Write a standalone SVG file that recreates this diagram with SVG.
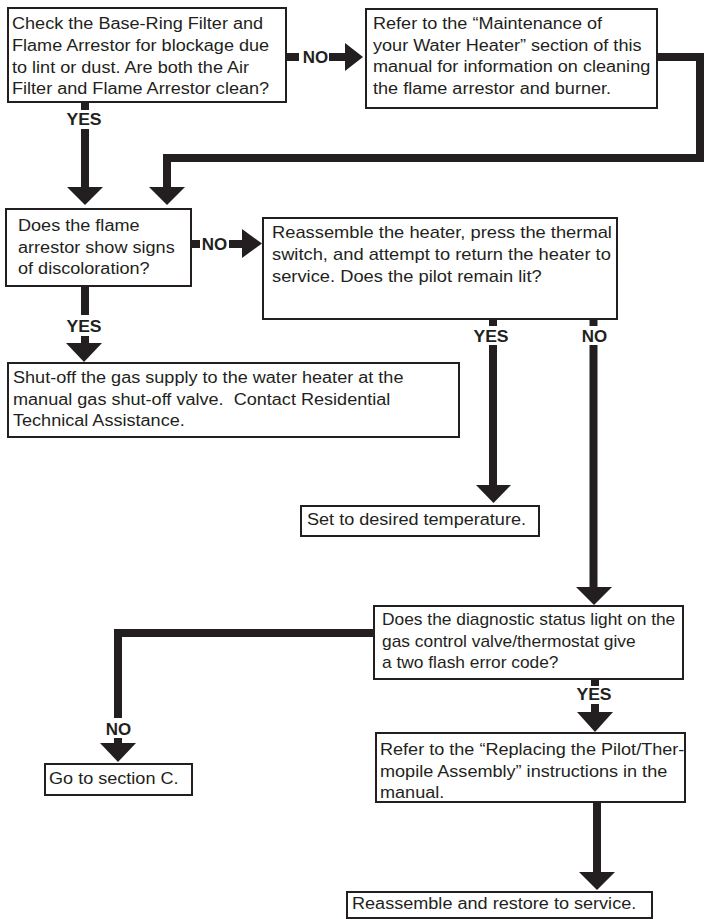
<svg xmlns="http://www.w3.org/2000/svg" width="704" height="919" viewBox="0 0 704 919">
<style>
.box{fill:#fff;stroke:#231f20;stroke-width:2}
.t{font-family:"Liberation Sans",Arial,sans-serif;font-size:16px;fill:#231f20}
.lbl{font-family:"Liberation Sans",Arial,sans-serif;font-size:16px;font-weight:bold;fill:#231f20;text-anchor:middle}
.ln{fill:none;stroke:#231f20;stroke-width:8;stroke-linejoin:miter;stroke-linecap:butt}
.ah{fill:#231f20}
</style>
<rect width="704" height="919" fill="#fff"/>
<g id="connectors">
  <line class="ln" x1="286" y1="57" x2="299" y2="57"/>
  <line class="ln" x1="329" y1="57" x2="346" y2="57"/>
  <polygon class="ah" points="345,43 363,57 345,71"/>
  <text class="lbl" transform="translate(315.5,0) scale(1.06,1)" x="0" y="62.7">NO</text>

  <line class="ln" x1="85" y1="102" x2="85" y2="110"/>
  <text class="lbl" transform="translate(84,0) scale(1.1,1)" x="0" y="125">YES</text>
  <line class="ln" x1="85" y1="129" x2="85" y2="188"/>
  <polygon class="ah" points="67,187 85,205 103,187"/>

  <path class="ln" d="M657,57 H700 V158 H167 V188"/>
  <polygon class="ah" points="149,187 167,205 185,187"/>

  <line class="ln" x1="191" y1="244" x2="200" y2="244"/>
  <text class="lbl" transform="translate(214.5,0) scale(1.06,1)" x="0" y="250">NO</text>
  <line class="ln" x1="229" y1="244" x2="243" y2="244"/>
  <polygon class="ah" points="242,229 262,243.5 242,258"/>

  <line class="ln" x1="85" y1="286" x2="85" y2="315"/>
  <text class="lbl" transform="translate(84,0) scale(1.1,1)" x="0" y="332">YES</text>
  <line class="ln" x1="85" y1="336" x2="85" y2="344"/>
  <polygon class="ah" points="66,343 84,362 102,343"/>

  <line class="ln" x1="493" y1="319" x2="493" y2="326"/>
  <text class="lbl" transform="translate(491,0) scale(1.1,1)" x="0" y="342">YES</text>
  <line class="ln" x1="493" y1="345" x2="493" y2="486"/>
  <polygon class="ah" points="476,485 493.5,503 511,485"/>

  <line class="ln" x1="593.5" y1="319" x2="593.5" y2="326"/>
  <text class="lbl" transform="translate(594.5,0) scale(1.06,1)" x="0" y="342">NO</text>
  <line class="ln" x1="593.5" y1="345" x2="593.5" y2="588"/>
  <polygon class="ah" points="576,587 594,605 612,587"/>

  <path class="ln" d="M374,633 H118 V718"/>
  <text class="lbl" transform="translate(118.5,0) scale(1.06,1)" x="0" y="735">NO</text>
  <line class="ln" x1="118" y1="738" x2="118" y2="744"/>
  <polygon class="ah" points="100,743 118,762 136,743"/>

  <line class="ln" x1="595" y1="679" x2="595" y2="686"/>
  <text class="lbl" transform="translate(594,0) scale(1.1,1)" x="0" y="700">YES</text>
  <line class="ln" x1="595" y1="704" x2="595" y2="713"/>
  <polygon class="ah" points="577,712 595,732 613,712"/>

  <line class="ln" x1="597" y1="802" x2="597" y2="873"/>
  <polygon class="ah" points="579,872 597,890 615,872"/>
</g>
<g id="n1">
  <rect class="box" x="8" y="8" width="278" height="94"/>
  <text class="t" transform="translate(12,0) scale(1.13,1)"><tspan x="0" y="29.3">Check the Base-Ring Filter and</tspan><tspan x="0" y="51">Flame Arrestor for blockage due</tspan><tspan x="0" y="72.7">to lint or dust. Are both the Air</tspan><tspan x="0" y="94.4">Filter and Flame Arrestor clean?</tspan></text>
</g>
<g id="n2">
  <rect class="box" x="366" y="9" width="291" height="99"/>
  <text class="t" transform="translate(373,0) scale(1.13,1)"><tspan x="0" y="29.5">Refer to the “Maintenance of</tspan><tspan x="0" y="51">your Water Heater” section of this</tspan><tspan x="0" y="72.5">manual for information on cleaning</tspan><tspan x="0" y="94">the flame arrestor and burner.</tspan></text>
</g>
<g id="n3">
  <rect class="box" x="6" y="209" width="185" height="77"/>
  <text class="t" transform="translate(18,0) scale(1.13,1)"><tspan x="0" y="231">Does the flame</tspan><tspan x="0" y="253">arrestor show signs</tspan><tspan x="0" y="274">of discoloration?</tspan></text>
</g>
<g id="n4">
  <rect class="box" x="263" y="218" width="354" height="101"/>
  <text class="t" transform="translate(272,0) scale(1.145,1)"><tspan x="0" y="238">Reassemble the heater, press the thermal</tspan><tspan x="0" y="260">switch, and attempt to return the heater to</tspan><tspan x="0" y="282">service. Does the pilot remain lit?</tspan></text>
</g>
<g id="n5">
  <rect class="box" x="8" y="363" width="451" height="74"/>
  <text class="t" transform="translate(13,0) scale(1.13,1)"><tspan x="0" y="383">Shut-off the gas supply to the water heater at the</tspan><tspan x="0" y="405">manual gas shut-off valve.&#160; Contact Residential</tspan><tspan x="0" y="426">Technical Assistance.</tspan></text>
</g>
<g id="n6">
  <rect class="box" x="301" y="506" width="238" height="30"/>
  <text class="t" transform="translate(307,0) scale(1.13,1)"><tspan x="0" y="525">Set to desired temperature.</tspan></text>
</g>
<g id="n7">
  <rect class="box" x="374" y="606" width="309" height="73"/>
  <text class="t" transform="translate(382,0) scale(1.085,1)"><tspan x="0" y="625">Does the diagnostic status light on the</tspan><tspan x="0" y="647">gas control valve/thermostat give</tspan><tspan x="0" y="668">a two flash error code?</tspan></text>
</g>
<g id="n8">
  <rect class="box" x="45" y="764" width="147" height="31"/>
  <text class="t" transform="translate(49,0) scale(1.13,1)"><tspan x="0" y="784">Go to section C.</tspan></text>
</g>
<g id="n9">
  <rect class="box" x="376" y="733" width="309" height="69"/>
  <text class="t" transform="translate(380,0) scale(1.13,1)"><tspan x="0" y="755">Refer to the “Replacing the Pilot/Ther-</tspan><tspan x="0" y="777">mopile Assembly” instructions in the</tspan><tspan x="0" y="798">manual.</tspan></text>
</g>
<g id="n10">
  <rect class="box" x="347" y="892" width="305" height="26"/>
  <text class="t" transform="translate(352,0) scale(1.13,1)"><tspan x="0" y="909">Reassemble and restore to service.</tspan></text>
</g>
</svg>
